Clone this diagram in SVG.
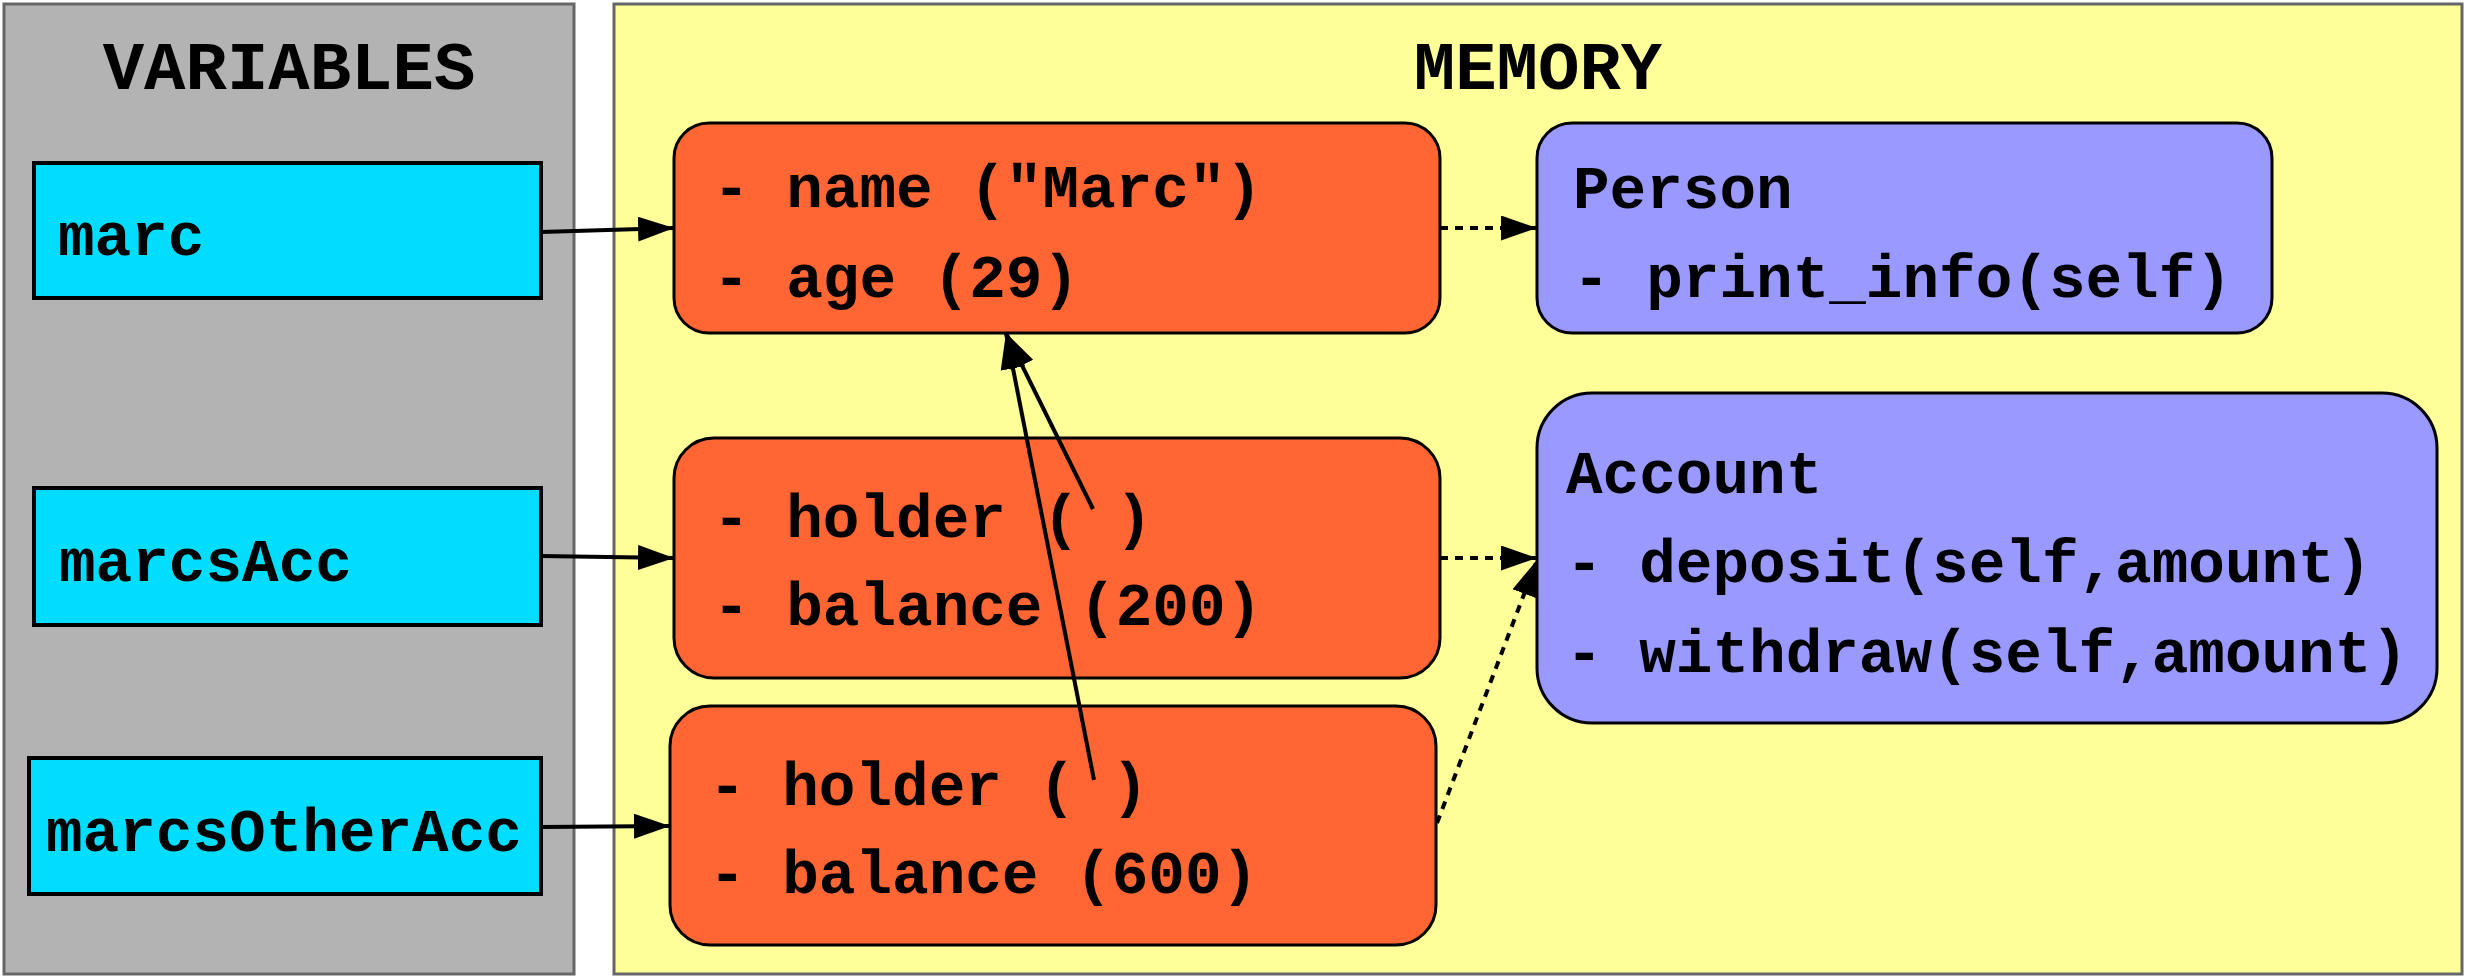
<svg xmlns="http://www.w3.org/2000/svg" width="2467" height="978" viewBox="0 0 2467 978">
<style>
.pv{fill:#b3b3b3;stroke:#666666;stroke-width:3}
.pm{fill:#ffff99;stroke:#666666;stroke-width:3}
.var{fill:#00ddff;stroke:#000;stroke-width:4}
.obj{fill:#ff6633;stroke:#000;stroke-width:3}
.cls{fill:#9999ff;stroke:#000;stroke-width:3}
text{font-family:"Liberation Mono","DejaVu Sans Mono",monospace;font-weight:bold;font-size:61px;fill:#000}
.title{font-size:69px;text-anchor:middle}
.edge{stroke:#000;stroke-width:4;fill:none;marker-end:url(#arr)}
.dot{stroke-dasharray:8 7}
</style>
<defs>
<marker id="arr" markerUnits="userSpaceOnUse" markerWidth="38" markerHeight="26" refX="36" refY="12.5" orient="auto">
<path d="M0,0 L36,12.5 L0,25 Z" fill="#000"/>
</marker>
</defs>
<g id="panel-variables">
<rect class="pv" x="4" y="4" width="570" height="970"/>
<text class="title" x="289" y="89">VARIABLES</text>
</g>
<g id="panel-memory">
<rect class="pm" x="614" y="4" width="1848" height="970"/>
<text class="title" x="1538" y="89">MEMORY</text>
</g>
<g id="var-marc">
<rect class="var" x="34" y="163" width="507" height="135"/>
<text x="58" y="255">marc</text>
</g>
<g id="var-marcsAcc">
<rect class="var" x="34" y="488" width="507" height="137"/>
<text x="59" y="581">marcsAcc</text>
</g>
<g id="var-marcsOtherAcc">
<rect class="var" x="29" y="758" width="512" height="136"/>
<text x="46" y="851">marcsOtherAcc</text>
</g>
<g id="obj-person">
<rect class="obj" x="674" y="123" width="766" height="210" rx="35" ry="35"/>
<text x="713" y="207">- name ("Marc")</text>
<text x="713" y="297">- age (29)</text>
</g>
<g id="obj-account1">
<rect class="obj" x="674" y="438" width="766" height="240" rx="40" ry="40"/>
<text x="713" y="537">- holder ( )</text>
<text x="713" y="625">- balance (200)</text>
</g>
<g id="obj-account2">
<rect class="obj" x="670" y="706" width="766" height="239" rx="40" ry="40"/>
<text x="709" y="805">- holder ( )</text>
<text x="709" y="893">- balance (600)</text>
</g>
<g id="class-person">
<rect class="cls" x="1537" y="123" width="735" height="210" rx="35" ry="35"/>
<text x="1573" y="208">Person</text>
<text x="1573" y="297">- print_info(self)</text>
</g>
<g id="class-account">
<rect class="cls" x="1537" y="393" width="900" height="330" rx="55" ry="55"/>
<text x="1566" y="493">Account</text>
<text x="1566" y="582">- deposit(self,amount)</text>
<text x="1566" y="672">- withdraw(self,amount)</text>
</g>
<g id="connectors">
<line class="edge" x1="541" y1="232" x2="674" y2="228"/>
<line class="edge" x1="541" y1="556" x2="674" y2="558"/>
<line class="edge" x1="541" y1="827" x2="670" y2="826"/>
<line class="edge dot" x1="1440" y1="228" x2="1537" y2="228"/>
<line class="edge dot" x1="1440" y1="558" x2="1537" y2="558"/>
<line class="edge dot" x1="1437" y1="823" x2="1537" y2="560"/>
<line class="edge" x1="1093" y1="509" x2="1006" y2="333"/>
<line class="edge" x1="1094" y1="780" x2="1006" y2="333"/>
</g>
</svg>
